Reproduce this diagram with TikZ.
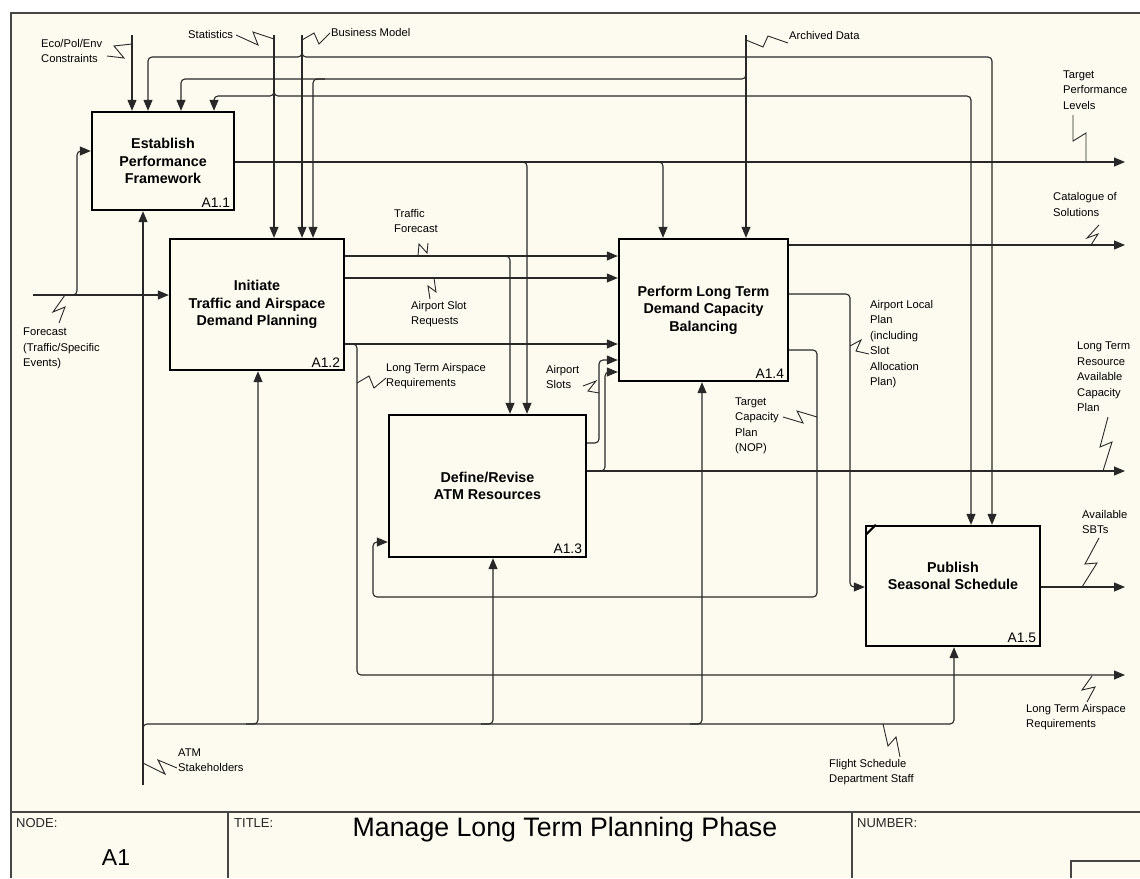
\documentclass[tikz,border=0pt]{standalone}
\usepackage{fontspec}
\setmainfont{Liberation Sans}
\usetikzlibrary{arrows.meta,calc}
\definecolor{bg}{RGB}{253,251,240}
\definecolor{ln}{RGB}{40,40,40}
\definecolor{fr}{RGB}{70,70,70}
\begin{document}
\begin{tikzpicture}[x=1pt,y=-1pt,
  conn/.style={draw=ln, line width=1.1pt, rounded corners=4pt},
  arr/.style={conn, -{Triangle[length=11pt,width=9pt]}},
  proc/.style={draw=black, line width=2.4pt, fill=bg, align=center, font=\fontsize{14.3}{17.5}\selectfont\bfseries, inner sep=0pt},
  lbl/.style={font=\fontsize{11.2}{15.5}\selectfont, align=left, anchor=west, inner sep=0pt},
  sq/.style={draw=ln, line width=0.9pt},
  num/.style={font=\fontsize{13.8}{16}\selectfont, anchor=south east, inner sep=0pt},
  frame/.style={draw=fr, line width=1.4pt},
  tb/.style={font=\fontsize{13}{15}\selectfont, anchor=west, inner sep=0pt, text=black!85}
]
\useasboundingbox (0,0) rectangle (1140,878);
\fill[white] (0,0) rectangle (1140,878);
\fill[bg] (11,13) rectangle (1140,878);
\draw[frame] (1140,13) -- (11,13) -- (11,878);
% title block
\draw[frame] (11,812) -- (1140,812);
\draw[frame] (228,812) -- (228,878);
\draw[frame] (852,812) -- (852,878);
\draw[frame] (1071,878) -- (1071,861) -- (1140,861);
\node[tb] (tnode) at (16,823) {NODE:};
\node[tb] (ttitle) at (234,823) {TITLE:};
\node[tb] (tnum) at (857,823) {NUMBER:};
\node[font=\fontsize{23}{26}\selectfont, inner sep=0pt] (tA1) at (116,858) {A1};
\node[font=\fontsize{26.7}{28}\selectfont, inner sep=0pt] (tmain) at (565,830) {Manage Long Term Planning Phase};

% boxes
\node[proc, minimum width=142pt, minimum height=98pt] (a11) at (163,161) {Establish\\Performance\\Framework};
\node[proc, minimum width=174pt, minimum height=131pt] (a12) at (257,304.5) {Initiate\\Traffic and Airspace\\Demand Planning};
\node[proc, minimum width=197pt, minimum height=142pt] (a13) at (487.5,486) {Define/Revise\\ATM Resources};
\node[proc, minimum width=169pt, minimum height=142pt] (a14) at (703.5,310) {Perform Long Term\\Demand Capacity\\Balancing};
\node[proc, minimum width=174pt, minimum height=120pt] (a15) at (953,586) {};
\node[font=\fontsize{14.3}{17.5}\selectfont\bfseries, align=center, inner sep=0pt] (a15t) at (953,576) {Publish\\Seasonal Schedule};
\draw[line width=2pt] ($(a15.north west)+(1,10)$) -- ($(a15.north west)+(11,0)$);
\node[num] (n11) at ($(a11.south east)+(-5,-4)$) {A1.1};
\node[num] (n12) at ($(a12.south east)+(-5,-4)$) {A1.2};
\node[num] (n13) at ($(a13.south east)+(-5,-4)$) {A1.3};
\node[num] (n14) at ($(a14.south east)+(-5,-4)$) {A1.4};
\node[num] (n15) at ($(a15.south east)+(-5,-4)$) {A1.5};

% free ends
\coordinate (eco) at (132,35);
\coordinate (stat) at (274,35);
\coordinate (bus) at (302,35);
\coordinate (arch) at (746,35);
\coordinate (fc) at (33,295);
\coordinate (atm) at (143,785);
\coordinate (oTPL) at (1125,162);
\coordinate (oCat) at (1125,245);
\coordinate (oLTR) at (1125,471);
\coordinate (oSBT) at (1125,587);
\coordinate (oLTA) at (1125,675);

% controls
\draw[arr] (eco) -- (eco |- a11.north);
\draw[arr] (stat) -- (stat |- a12.north);
\draw[arr] (274,86) -- (274,96) -- (214,96) -- (214,0 |- a11.north);
\draw[arr] (274,86) -- (274,96) -- (971,96) -- (971,0 |- a15.north);
\draw[arr] (bus) -- (bus |- a12.north);
\draw[arr] (302,48) -- (302,57) -- (148,57) -- (148,0 |- a11.north);
\draw[arr] (302,48) -- (302,57) -- (992,57) -- (992,0 |- a15.north);
\draw[arr] (arch) -- (arch |- a14.north);
\draw[arr] (746,70) -- (746,79) -- (181,79) -- (181,0 |- a11.north);
\draw[arr] (325,79) -- (313,79) -- (313,0 |- a12.north);

% inputs
\draw[arr] (fc) -- (fc -| a12.west);
\draw[arr] (66,295) -- (77,295) -- (77,151) -- (a11.west |- 0,151);

% mechanisms
\draw[arr] (atm) -- (atm |- a11.south);
\draw[arr] (143,736) -- (143,724) -- (954,724) -- (954,0 |- a15.south);
\draw[arr] (246,724) -- (258,724) -- (258,0 |- a12.south);
\draw[arr] (481,724) -- (493,724) -- (493,0 |- a13.south);
\draw[arr] (690,724) -- (702,724) -- (702,0 |- a14.south);

% A1.1 output
\draw[arr] (a11.east |- oTPL) -- (oTPL);
\draw[arr] (515,162) -- (527,162) -- (527,0 |- a13.north);
\draw[arr] (651,162) -- (663,162) -- (663,0 |- a14.north);

% A1.2 outputs
\draw[arr] (a12.east |- 0,256) -- (a14.west |- 0,256);
\draw[arr] (498,256) -- (510,256) -- (510,0 |- a13.north);
\draw[arr] (a12.east |- 0,278) -- (a14.west |- 0,278);
\draw[arr] (a12.east |- 0,344) -- (a14.west |- 0,344);
\draw[arr] (347,344) -- (357,344) -- (357,675) -- (oLTA);

% A1.3 outputs
\draw[arr] (a13.east |- 0,443) -- (599,443) -- (599,360) -- (a14.west |- 0,360);
\draw[arr] (a13.east |- oLTR) -- (oLTR);
\draw[arr] (593,471) -- (605,471) -- (605,372) -- (a14.west |- 0,372);

% A1.4 outputs
\draw[arr] (a14.east |- oCat) -- (oCat);
\draw[arr] (a14.east |- 0,294) -- (850,294) -- (850,587) -- (a15.west |- 0,587);
\draw[arr] (a14.east |- 0,350) -- (817,350) -- (817,597) -- (373,597) -- (373,542) -- (a13.west |- 0,542);

% A1.5 output
\draw[arr] (a15.east |- oSBT) -- (oSBT);

% labels
\node[lbl] (lEco) at (41,51) {Eco/Pol/Env\\Constraints};
\node[lbl] (lStat) at (188,34) {Statistics};
\node[lbl] (lBus) at (331,32) {Business Model};
\node[lbl] (lArch) at (789,35) {Archived Data};
\node[lbl] (lTPL) at (1063,90) {Target\\Performance\\Levels};
\node[lbl] (lCat) at (1053,204.5) {Catalogue of\\Solutions};
\node[lbl] (lTF) at (394,221) {Traffic\\Forecast};
\node[lbl] (lASR) at (411,314) {Airport Slot\\Requests};
\node[lbl] (lLTAR) at (386,376) {Long Term Airspace\\Requirements};
\node[lbl] (lAS) at (546,377) {Airport\\Slots};
\node[lbl] (lTCP) at (735,426) {Target\\Capacity\\Plan\\(NOP)};
\node[lbl] (lALP) at (870,344) {Airport Local\\Plan\\(including\\Slot\\Allocation\\Plan)};
\node[lbl] (lLTR) at (1077,377) {Long Term\\Resource\\Available\\Capacity\\Plan};
\node[lbl] (lSBT) at (1082,522) {Available\\SBTs};
\node[lbl] (lFc) at (23,348.5) {Forecast\\(Traffic/Specific\\Events)};
\node[lbl] (lATM) at (178,760) {ATM\\Stakeholders};
\node[lbl] (lFS) at (829,772) {Flight Schedule\\Department Staff};
\node[lbl] (lLTA2) at (1026,717) {Long Term Airspace\\Requirements};

% squiggles
\draw[sq] (107,56) -- (124,58) -- (114,46) -- (132,44);
\draw[sq] (236,35) -- (258,45) -- (253,32) -- (274,39);
\draw[sq] (302,40) -- (314,33) -- (319,44) -- (330,33);
\draw[sq] (746,40) -- (763,47) -- (768,36) -- (788,43);
\draw[sq] (1073,115) -- (1073,141) -- (1086,133) -- (1086,162);
\draw[sq] (1099,225) -- (1087,238) -- (1098,234) -- (1091,245);
\draw[sq] (418,256) -- (419,244) -- (427,253) -- (428,243);
\draw[sq] (430,299) -- (428,286) -- (436,292) -- (434,278);
\draw[sq] (357,383) -- (369,376) -- (374,388) -- (386,378);
\draw[sq] (583,386) -- (596,381) -- (588,391) -- (599,393);
\draw[sq] (783,417) -- (803,423) -- (797,411) -- (817,417);
\draw[sq] (850,346) -- (861,340) -- (856,351) -- (869,354);
\draw[sq] (1108,417) -- (1100,447) -- (1112,442) -- (1103,471);
\draw[sq] (1099,538) -- (1085,564) -- (1097,563) -- (1082,587);
\draw[sq] (65,295) -- (53,312) -- (65,307) -- (59,323);
\draw[sq] (143,763) -- (165,774) -- (158,760) -- (177,768);
\draw[sq] (883,724) -- (888,746) -- (896,737) -- (900,757);
\draw[sq] (1092,676) -- (1082,690) -- (1095,687) -- (1087,702);
\end{tikzpicture}
\end{document}
